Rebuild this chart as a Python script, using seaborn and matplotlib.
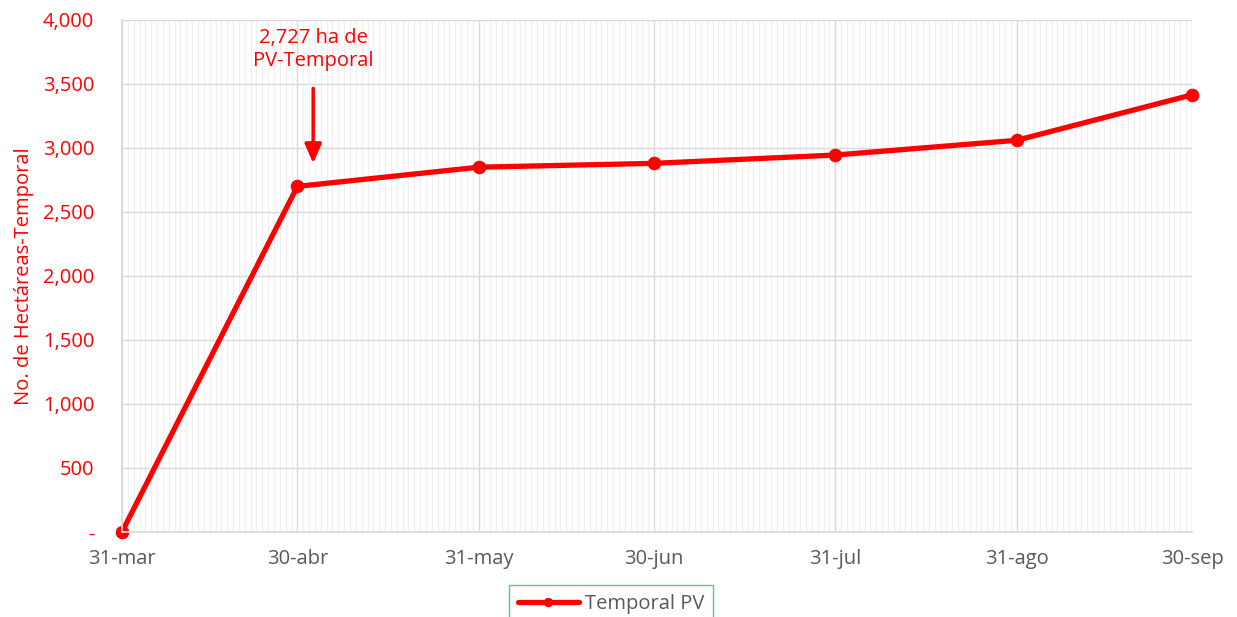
import matplotlib
matplotlib.use("Agg")
import matplotlib.pyplot as plt
import matplotlib.dates as mdates
import matplotlib.ticker as mticker
import numpy as np
import pandas as pd
import seaborn as sns

# datos
fechas = ["2020-03-31", "2020-04-30", "2020-05-31", "2020-06-30",
          "2020-07-31", "2020-08-31", "2020-09-30"]
hectareas = [0, 2700, 2850, 2880, 2945, 3060, 3415]
etiquetas_x = ["31-mar", "30-abr", "31-may", "30-jun", "31-jul", "31-ago", "30-sep"]
nota = "2,727 ha de\nPV-Temporal"

df = pd.DataFrame({
    "fecha": pd.to_datetime(fechas),
    "Temporal PV": hectareas,
})

sns.set_theme(style="white")
plt.rcParams["font.family"] = ["Open Sans", "DejaVu Sans"]

ROJO = "#ff0000"
GRIS = "#595959"

fig = plt.figure(figsize=(12.37, 6.17), dpi=100)
ax = fig.add_axes([0.0986, 0.1378, 0.865, 0.8298])

sns.lineplot(
    data=df,
    x="fecha",
    y="Temporal PV",
    ax=ax,
    color=ROJO,
    linewidth=3.8,
    marker="o",
    markersize=9,
    markeredgecolor=ROJO,
    label="Temporal PV",
)
for ln in ax.get_lines():
    ln.set_clip_on(False)

# ejes
ax.set_xlim(df["fecha"].iloc[0], df["fecha"].iloc[-1])
ax.set_ylim(0, 4000)
ax.set_xticks(df["fecha"])
ax.set_xticklabels(etiquetas_x)
ax.xaxis.set_minor_locator(mdates.DayLocator())
ax.yaxis.set_major_locator(mticker.MultipleLocator(500))
ax.yaxis.set_major_formatter(
    mticker.FuncFormatter(lambda v, p: "-" if v == 0 else f"{v:,.0f}")
)

ax.grid(which="minor", axis="x", color="#f0f0f0", linewidth=0.9)
ax.grid(which="major", axis="x", color="#d9d9d9", linewidth=1.0)
ax.grid(which="major", axis="y", color="#d9d9d9", linewidth=1.0)
ax.set_axisbelow(True)

for s in ["top", "right"]:
    ax.spines[s].set_visible(False)
ax.spines["left"].set_color("#d9d9d9")
ax.spines["bottom"].set_color("#d9d9d9")

ax.tick_params(axis="x", which="major", length=5, color="#d9d9d9",
               labelsize=14.5, labelcolor=GRIS, pad=7)
ax.tick_params(axis="x", which="minor", length=0)
ax.tick_params(axis="y", length=0, labelsize=14.5, labelcolor=ROJO, pad=20)

ax.set_xlabel("")
ax.set_ylabel("No. de Hectáreas-Temporal", color=ROJO, fontsize=14.5, labelpad=6)

# anotacion
ax.annotate(
    nota,
    xy=(df["fecha"].iloc[1] + pd.Timedelta(days=2.7), 2880),
    xytext=(df["fecha"].iloc[1] + pd.Timedelta(days=2.7), 3600),
    ha="center", va="bottom",
    color=ROJO, fontsize=14.5, linespacing=1.2,
    arrowprops=dict(arrowstyle="-|>,head_width=0.35,head_length=0.8",
                    color=ROJO, lw=2.5, shrinkA=10, shrinkB=0),
)

leg = ax.legend(
    loc="upper center",
    bbox_to_anchor=(0.494, 0.052),
    bbox_transform=fig.transFigure,
    frameon=True,
    fontsize=14.5,
    handlelength=3.0,
    handletextpad=0.3,
    borderpad=0.45,
    fancybox=False,
    borderaxespad=0,
)
leg.get_frame().set_edgecolor("#2fbf5f")
leg.get_frame().set_linewidth(1.0)
for t in leg.get_texts():
    t.set_color(GRIS)
for h in leg.legend_handles:
    h.set_markersize(6)

fig.savefig("out.png", dpi=100)
